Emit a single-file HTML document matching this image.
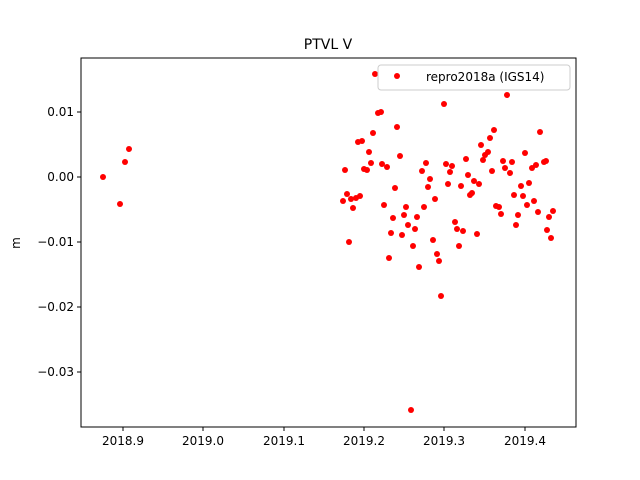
<!DOCTYPE html>
<html><head><style>body{margin:0;background:#fff}svg{display:block}text{font-family:"DejaVu Sans","Liberation Sans",sans-serif}</style></head><body>
<svg width="640" height="480" viewBox="0 0 640 480">
<rect x="81" y="58" width="495" height="369" fill="#fff" stroke="#000" stroke-width="1"/>
<text x="328" y="49" font-size="14" text-anchor="middle">PTVL V</text>
<g stroke="#000"><line x1="81" y1="112" x2="77" y2="112"/><line x1="81" y1="177" x2="77" y2="177"/><line x1="81" y1="242" x2="77" y2="242"/><line x1="81" y1="307" x2="77" y2="307"/><line x1="81" y1="372" x2="77" y2="372"/>
<line x1="123" y1="427" x2="123" y2="431"/><line x1="203" y1="427" x2="203" y2="431"/><line x1="284" y1="427" x2="284" y2="431"/><line x1="364" y1="427" x2="364" y2="431"/><line x1="444" y1="427" x2="444" y2="431"/><line x1="525" y1="427" x2="525" y2="431"/></g>
<g font-size="12" text-anchor="end"><text x="74" y="116">0.01</text><text x="74" y="181">0.00</text><text x="74" y="246">−0.01</text><text x="74" y="311">−0.02</text><text x="74" y="376">−0.03</text></g>
<g font-size="12" text-anchor="middle"><text x="123" y="445">2018.9</text><text x="203" y="445">2019.0</text><text x="284" y="445">2019.1</text><text x="364" y="445">2019.2</text><text x="444" y="445">2019.3</text><text x="525" y="445">2019.4</text></g>
<text x="20" y="243" font-size="12" text-anchor="middle" transform="rotate(-90 20 243)">m</text>
<g fill="#f00">
<circle cx="103" cy="177" r="3"/><circle cx="120" cy="204" r="3"/><circle cx="125" cy="162" r="3"/><circle cx="129" cy="149" r="3"/>
<circle cx="375" cy="74" r="3"/><circle cx="444" cy="104" r="3"/><circle cx="507" cy="95" r="3"/><circle cx="378" cy="113" r="3"/><circle cx="381" cy="112" r="3"/><circle cx="397" cy="127" r="3"/><circle cx="373" cy="133" r="3"/><circle cx="494" cy="130" r="3"/><circle cx="540" cy="132" r="3"/><circle cx="490" cy="138" r="3"/><circle cx="358" cy="142" r="3"/><circle cx="362" cy="141" r="3"/><circle cx="481" cy="145" r="3"/><circle cx="369" cy="152" r="3"/><circle cx="488" cy="152" r="3"/><circle cx="485" cy="155" r="3"/><circle cx="525" cy="153" r="3"/><circle cx="400" cy="156" r="3"/><circle cx="466" cy="159" r="3"/><circle cx="483" cy="160" r="3"/><circle cx="503" cy="161" r="3"/><circle cx="512" cy="162" r="3"/><circle cx="345" cy="170" r="3"/><circle cx="364" cy="169" r="3"/><circle cx="367" cy="170" r="3"/><circle cx="371" cy="163" r="3"/><circle cx="382" cy="164" r="3"/><circle cx="387" cy="167" r="3"/><circle cx="422" cy="171" r="3"/><circle cx="426" cy="163" r="3"/><circle cx="446" cy="164" r="3"/><circle cx="452" cy="166" r="3"/><circle cx="450" cy="172" r="3"/><circle cx="505" cy="168" r="3"/><circle cx="492" cy="171" r="3"/><circle cx="510" cy="173" r="3"/><circle cx="532" cy="168" r="3"/><circle cx="536" cy="165" r="3"/><circle cx="544" cy="162" r="3"/><circle cx="546" cy="161" r="3"/><circle cx="468" cy="175" r="3"/><circle cx="430" cy="179" r="3"/><circle cx="474" cy="181" r="3"/><circle cx="479" cy="184" r="3"/><circle cx="448" cy="184" r="3"/><circle cx="428" cy="187" r="3"/><circle cx="461" cy="186" r="3"/><circle cx="395" cy="188" r="3"/><circle cx="521" cy="186" r="3"/><circle cx="529" cy="183" r="3"/><circle cx="347" cy="194" r="3"/><circle cx="360" cy="196" r="3"/><circle cx="356" cy="198" r="3"/><circle cx="351" cy="199" r="3"/><circle cx="343" cy="201" r="3"/><circle cx="435" cy="199" r="3"/><circle cx="472" cy="193" r="3"/><circle cx="470" cy="195" r="3"/><circle cx="514" cy="195" r="3"/><circle cx="523" cy="196" r="3"/><circle cx="534" cy="201" r="3"/>
<circle cx="353" cy="208" r="3"/><circle cx="349" cy="242" r="3"/><circle cx="384" cy="205" r="3"/><circle cx="406" cy="207" r="3"/><circle cx="424" cy="207" r="3"/><circle cx="393" cy="218" r="3"/><circle cx="404" cy="215" r="3"/><circle cx="417" cy="217" r="3"/><circle cx="408" cy="225" r="3"/><circle cx="415" cy="229" r="3"/><circle cx="391" cy="233" r="3"/><circle cx="402" cy="235" r="3"/><circle cx="413" cy="246" r="3"/><circle cx="433" cy="240" r="3"/><circle cx="389" cy="258" r="3"/><circle cx="419" cy="267" r="3"/><circle cx="437" cy="254" r="3"/><circle cx="439" cy="261" r="3"/><circle cx="441" cy="296" r="3"/><circle cx="455" cy="222" r="3"/><circle cx="457" cy="229" r="3"/><circle cx="463" cy="231" r="3"/><circle cx="477" cy="234" r="3"/><circle cx="459" cy="246" r="3"/><circle cx="496" cy="206" r="3"/><circle cx="499" cy="207" r="3"/><circle cx="501" cy="214" r="3"/><circle cx="527" cy="205" r="3"/><circle cx="538" cy="212" r="3"/><circle cx="518" cy="215" r="3"/><circle cx="516" cy="225" r="3"/><circle cx="549" cy="217" r="3"/><circle cx="553" cy="211" r="3"/><circle cx="547" cy="230" r="3"/><circle cx="551" cy="238" r="3"/><circle cx="411" cy="410" r="3"/>
</g>
<rect x="378" y="65" width="192" height="25" rx="3" fill="#fff" fill-opacity="0.8" stroke="#ccc"/>
<circle cx="397" cy="76" r="3" fill="#f00"/>
<text x="426" y="81" font-size="12">repro2018a (IGS14)</text>
</svg>
</body></html>
